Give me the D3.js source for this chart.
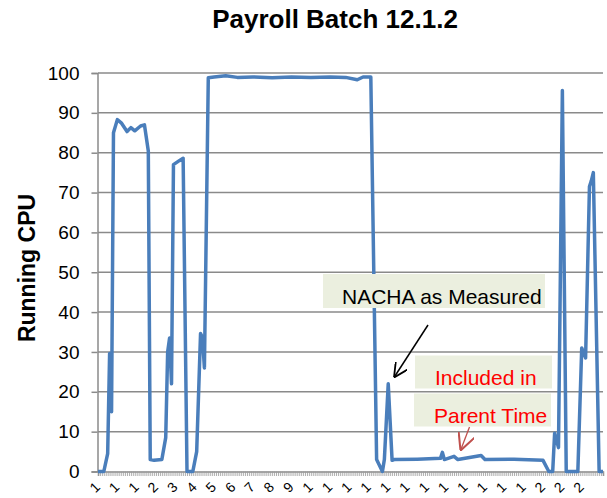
<!DOCTYPE html>
<html>
<head>
<meta charset="utf-8">
<script src="https://cdn.jsdelivr.net/npm/d3@7"></script>
<style>
  body { margin: 0; background: #fff; }
  text { font-family: "Liberation Sans", Arial, sans-serif; }
</style>
</head>
<body>
<script>
// sample number (x) and running CPU (y)
var sample = [0, 3, 5, 6, 7, 8, 10, 12, 15, 17, 19, 22, 24, 26, 27, 29, 33, 35, 36, 37, 38, 39, 42, 44, 46, 49, 51, 53, 54, 55,
  57, 60, 66, 72, 80, 90, 100, 110, 120, 128, 134, 137, 141, 144, 147, 148, 150, 152, 153, 165, 177, 178, 179,
  184, 186, 198, 200, 215, 230, 233, 235, 236, 238, 240, 242, 248, 250, 252, 254, 255, 256, 259, 261];
var cpu = [0, 0, 4.5, 29.6, 15, 85, 88.3, 87.5, 85.3, 86.3, 85.5, 86.7, 87, 80.4, 3, 2.8, 3, 8.5, 30, 33.5, 22, 77, 78, 78.6, 0, 0, 5, 34.6, 33.7, 26,
  98.8, 99, 99.3, 98.9, 99, 98.8, 99, 98.9, 99, 98.9, 98.3, 99, 99, 3, 0, 3, 22, 2.8, 3, 3.1, 3.3, 4.8, 3,
  3.8, 3, 4, 3, 3.1, 2.8, 0, 0, 9.6, 6, 95.6, 0, 0, 31, 28.5, 71.5, 73, 75, 0, 0];
var nSamples = 262;
var xLabels = ["1", "1", "1", "2", "3", "4", "5", "6", "7", "8", "9", "1", "1", "1", "1", "1", "1", "1", "1", "1", "1", "1", "1", "2", "2", "2"];
var yTicks = [0, 10, 20, 30, 40, 50, 60, 70, 80, 90, 100];

var svg = d3.select("body").append("svg")
  .attr("width", 607)
  .attr("height", 498);

var x = d3.scaleLinear().domain([0, nSamples - 1]).range([98, 603]);
var y = d3.scaleLinear().domain([0, 100]).range([471.5, 73]);

// title
svg.append("text")
  .attr("x", 335).attr("y", 28)
  .attr("text-anchor", "middle")
  .attr("font-size", 26).attr("font-weight", "bold")
  .text("Payroll Batch 12.1.2");

// y axis title
svg.append("text")
  .attr("transform", "translate(35,268) rotate(-90)")
  .attr("text-anchor", "middle")
  .attr("font-size", 23).attr("font-weight", "bold")
  .text("Running CPU");

// gridlines
svg.append("g").selectAll("line")
  .data(yTicks.filter(d => d > 0))
  .enter().append("line")
  .attr("x1", 98).attr("x2", 603)
  .attr("y1", d => y(d)).attr("y2", d => y(d))
  .attr("stroke", "#8a8a8a").attr("stroke-width", 1.5);

// y axis
var yAxis = svg.append("g")
  .attr("transform", "translate(97.5,0)")
  .call(d3.axisLeft(y).tickValues(yTicks).tickSize(6).tickPadding(12));
yAxis.select(".domain").attr("stroke", "#8a8a8a").attr("stroke-width", 1.5);
yAxis.selectAll(".tick line").attr("stroke", "#8a8a8a").attr("stroke-width", 1.5);
yAxis.selectAll(".tick text")
  .attr("font-size", 19).attr("fill", "#000")
  .style("font-family", '"Liberation Sans", Arial, sans-serif');

// x axis: a small tick for every sample
var xAxis = svg.append("g")
  .attr("transform", "translate(0,471.5)")
  .call(d3.axisBottom(x).tickValues(d3.range(nSamples)).tickSize(4.5).tickFormat(""));
xAxis.select(".domain").attr("stroke", "#8a8a8a").attr("stroke-width", 1.5);
xAxis.selectAll(".tick line").attr("stroke", "#9a9a9a").attr("stroke-width", 0.8);

svg.append("g").selectAll("text")
  .data(xLabels)
  .enter().append("text")
  .attr("transform", (d, i) => "translate(" + (x(i * 10) + 3) + ",488) rotate(-45)")
  .attr("text-anchor", "end")
  .attr("font-size", 14)
  .text(d => d);

// the series
var line = d3.line()
  .x((d, i) => x(sample[i]))
  .y(d => y(d));

svg.append("path")
  .datum(cpu)
  .attr("d", line)
  .attr("fill", "none")
  .attr("stroke", "#4a7ebb")
  .attr("stroke-width", 3.5)
  .attr("stroke-linejoin", "round");

// annotations
var defs = svg.append("defs");
defs.append("marker").attr("id", "headBlack")
  .attr("viewBox", "0 0 10 10").attr("refX", 10).attr("refY", 5)
  .attr("markerWidth", 14).attr("markerHeight", 14).attr("markerUnits", "userSpaceOnUse")
  .attr("orient", "auto")
  .append("path").attr("d", "M0,0 L10,5 L0,10").attr("fill", "none").attr("stroke", "#000").attr("stroke-width", 1.3);
defs.append("marker").attr("id", "headRed")
  .attr("viewBox", "0 0 10 10").attr("refX", 10).attr("refY", 5)
  .attr("markerWidth", 17).attr("markerHeight", 17).attr("markerUnits", "userSpaceOnUse")
  .attr("orient", "auto")
  .append("path").attr("d", "M0,0 L10,5 L0,10").attr("fill", "none").attr("stroke", "#c0504d").attr("stroke-width", 1.2);

var boxes = [
  { x: 323, y: 274, w: 222, h: 34, text: "NACHA as Measured", tx: 342, ty: 304, color: "#000" },
  { x: 415, y: 355.5, w: 137, h: 33, text: "Included in", tx: 435, ty: 385, color: "#ff0000" },
  { x: 414, y: 393.5, w: 137, h: 33, text: "Parent Time", tx: 434, ty: 423, color: "#ff0000" }
];
var ann = svg.append("g").selectAll("g").data(boxes).enter().append("g");
ann.append("rect")
  .attr("x", d => d.x).attr("y", d => d.y)
  .attr("width", d => d.w).attr("height", d => d.h)
  .attr("fill", "#ebefdf");
ann.append("text")
  .attr("x", d => d.tx).attr("y", d => d.ty)
  .attr("font-size", 21).attr("fill", d => d.color)
  .text(d => d.text);

svg.append("line")
  .attr("x1", 428).attr("y1", 325).attr("x2", 394).attr("y2", 377.5)
  .attr("stroke", "#000").attr("stroke-width", 1.5)
  .attr("marker-end", "url(#headBlack)");
svg.append("line")
  .attr("x1", 469.5).attr("y1", 427).attr("x2", 460.5).attr("y2", 450.5)
  .attr("stroke", "#c0504d").attr("stroke-width", 1.3)
  .attr("marker-end", "url(#headRed)");
</script>
</body>
</html>
